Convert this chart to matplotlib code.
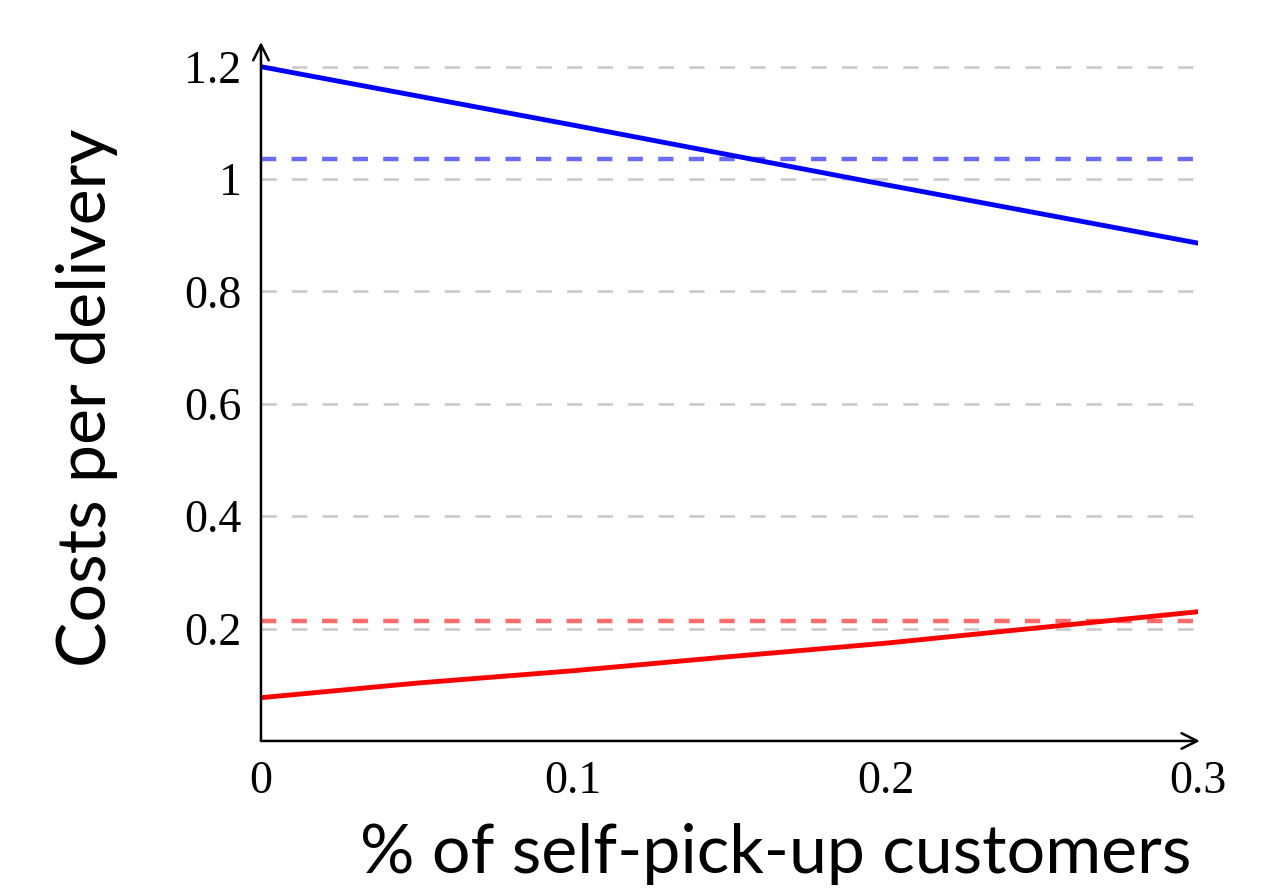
import matplotlib

matplotlib.use("Agg")
import matplotlib.pyplot as plt
import matplotlib.ticker as ticker

# Data.
share_pickup = [0.0, 0.05, 0.10, 0.15, 0.20, 0.25, 0.30]
cost_blue = [1.200, 1.148, 1.096, 1.043, 0.990, 0.938, 0.886]
cost_red = [0.077, 0.103, 0.125, 0.150, 0.174, 0.202, 0.230]
ref_blue = 1.035
ref_red = 0.214
y_ticks = [0.2, 0.4, 0.6, 0.8, 1.0, 1.2]
x_ticks = [0.0, 0.1, 0.2, 0.3]

plt.rcParams["lines.scale_dashes"] = False

fig = plt.figure(figsize=(12.78, 8.91), dpi=100)
ax = fig.add_axes([0.2042, 0.1684, 0.7332, 0.7845])

# Dashed grey grid at each y tick.
for y in y_ticks:
    ax.plot([0, 0.3], [y, y], color="#c8c8c8", lw=1.8,
            linestyle=(0, (11, 11)), zorder=1)

# Reference levels (dashed) and cost curves (solid).
ax.plot([0, 0.3], [ref_blue, ref_blue], color="#6a6aff", lw=3.2,
        linestyle=(0, (11, 11)), zorder=2)
ax.plot([0, 0.3], [ref_red, ref_red], color="#ff6a6a", lw=3.2,
        linestyle=(0, (11, 11)), zorder=2)
ax.plot(share_pickup, cost_blue, color="#0000ff", lw=3.5, zorder=3)
ax.plot(share_pickup, cost_red, color="#ff0000", lw=3.5, zorder=3)

ax.set_xlim(0, 0.3)
ax.set_ylim(0, 1.244)
ax.set_xticks(x_ticks)
ax.set_yticks(y_ticks)
ax.xaxis.set_major_formatter(ticker.FormatStrFormatter("%g"))
ax.yaxis.set_major_formatter(ticker.FormatStrFormatter("%g"))
ax.tick_params(length=0, labelsize=33, pad=14)
for label in ax.get_xticklabels() + ax.get_yticklabels():
    label.set_fontfamily("Liberation Serif")

# Axes drawn as arrows, TikZ style.
for side in ("top", "right", "left", "bottom"):
    ax.spines[side].set_visible(False)
ax.annotate("", xy=(1.002, 0), xytext=(0, 0), xycoords="axes fraction",
            arrowprops=dict(arrowstyle="->", lw=1.8, color="black",
                            mutation_scale=28, shrinkA=0, shrinkB=0))
ax.annotate("", xy=(0, 1.0), xytext=(0, 0), xycoords="axes fraction",
            arrowprops=dict(arrowstyle="->", lw=1.8, color="black",
                            mutation_scale=28, shrinkA=0, shrinkB=0))

ax.set_xlabel("% of self-pick-up customers", fontsize=49, family="Lato",
              va="center")
ax.xaxis.set_label_coords(0.549, -0.162)
ax.set_ylabel("Costs per delivery", fontsize=49, family="Lato",
              va="center")
ax.yaxis.set_label_coords(-0.186, 0.491)

fig.savefig("out.png", dpi=100)
plt.close(fig)
